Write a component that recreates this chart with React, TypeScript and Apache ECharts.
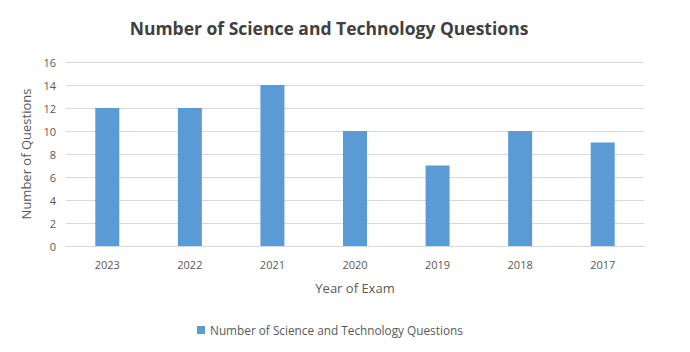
import React, { useEffect, useRef } from "react";
import * as echarts from "echarts";

const years = ["2023", "2022", "2021", "2020", "2019", "2018", "2017"];
const questions = [12, 12, 14, 10, 7, 10, 9];
const seriesName = "Number of Science and Technology Questions";

export default function App() {
  const ref = useRef<HTMLDivElement>(null);
  useEffect(() => {
    const chart = echarts.init(ref.current!, null, { renderer: "svg" });
    const font = "Open Sans";
    chart.setOption({
      animation: false,
      backgroundColor: "#ffffff",
      title: {
        text: "Number of Science and Technology Questions",
        left: 316,
        textAlign: "center",
        top: 6,
        textStyle: { fontFamily: font, fontSize: 17.5, fontWeight: "bold", color: "#404040" },
      },
      grid: { left: 58, right: 38, top: 54, bottom: 98 },
      legend: {
        top: 311,
        left: 184,
        itemWidth: 8,
        itemHeight: 8,
        itemGap: 5,
        icon: "rect",
        textStyle: { fontFamily: font, fontSize: 11.8, color: "#595959" },
        data: [seriesName],
      },
      xAxis: {
        type: "category",
        data: years,
        name: "Year of Exam",
        nameLocation: "middle",
        nameGap: 35,
        nameTextStyle: { fontFamily: font, fontSize: 13, color: "#595959" },
        axisLine: { lineStyle: { color: "#D9D9D9" } },
        axisTick: { show: false },
        axisLabel: { fontFamily: font, fontSize: 11, color: "#595959", margin: 13 },
      },
      yAxis: {
        type: "value",
        min: 0,
        max: 16,
        interval: 2,
        name: "Number of Questions",
        nameLocation: "middle",
        nameGap: 22,
        nameTextStyle: { fontFamily: font, fontSize: 13, color: "#595959" },
        axisLine: { show: false },
        axisTick: { show: false },
        axisLabel: { fontFamily: font, fontSize: 11, color: "#595959", margin: 10 },
        splitLine: { lineStyle: { color: "#D9D9D9" } },
      },
      series: [
        {
          name: seriesName,
          type: "bar",
          data: questions,
          barWidth: 24,
          itemStyle: { color: "#5B9BD5" },
        },
      ],
    });
    return () => chart.dispose();
  }, []);
  return <div ref={ref} style={{ width: 674, height: 336 }} />;
}
